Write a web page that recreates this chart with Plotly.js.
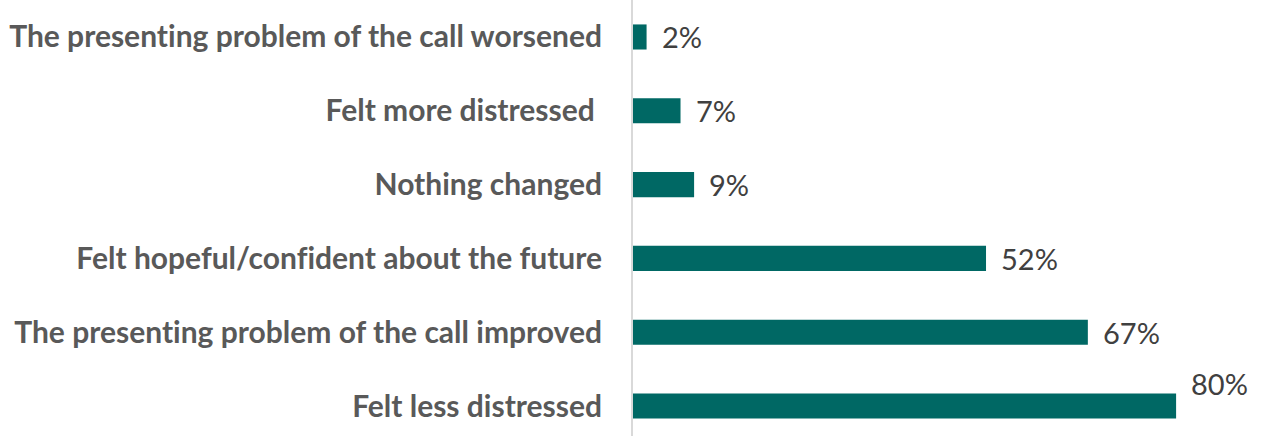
<!DOCTYPE html>
<html><head><meta charset="utf-8">
<script src="https://cdn.plot.ly/plotly-3.0.1.min.js"></script>
<style>html,body{margin:0;padding:0;background:#fff} text{font-variant-ligatures:none;font-feature-settings:"liga" 0,"clig" 0;}</style>
</head><body>
<div id="chart" style="width:1263px;height:436px"></div>
<script>
const categories = [
  "Felt less distressed",
  "The presenting problem of the call improved",
  "Felt hopeful/confident about the future",
  "Nothing changed",
  "Felt more distressed\u00a0",
  "The presenting problem of the call worsened"
];
const values = [80, 67, 52, 9, 7, 2];
const valueLabels = ["80%", "67%", "52%", "9%", "7%", "2%"];

const annotations = values.map((v, i) => ({
  x: v, y: categories[i], xref: "x", yref: "y",
  text: valueLabels[i], showarrow: false,
  xanchor: "left", yanchor: "middle",
  xshift: 13, yshift: i === 0 ? 23 : 0,
  font: {family: "Lato, sans-serif", size: 29, color: "#404040"}
}));

Plotly.newPlot("chart", [{
  type: "bar", orientation: "h",
  x: values, y: categories,
  width: 0.34,
  marker: {color: "#006864"},
  hoverinfo: "none"
}], {
  width: 1263, height: 436,
  margin: {l: 633, r: 0, t: 0, b: 0, pad: 0},
  paper_bgcolor: "#fff", plot_bgcolor: "#fff",
  showlegend: false,
  xaxis: {range: [0, 92.8], visible: false, fixedrange: true},
  yaxis: {
    type: "category", range: [-0.4065, 5.501],
    showline: true, linecolor: "#d9d9d9", linewidth: 2,
    showgrid: false, zeroline: false, ticks: "",
    ticklabelstandoff: 23,
    tickfont: {family: "Lato, sans-serif", size: 30, color: "#595959", weight: "bold"}
  },
  annotations: annotations
}, {staticPlot: true});
</script>
</body></html>
